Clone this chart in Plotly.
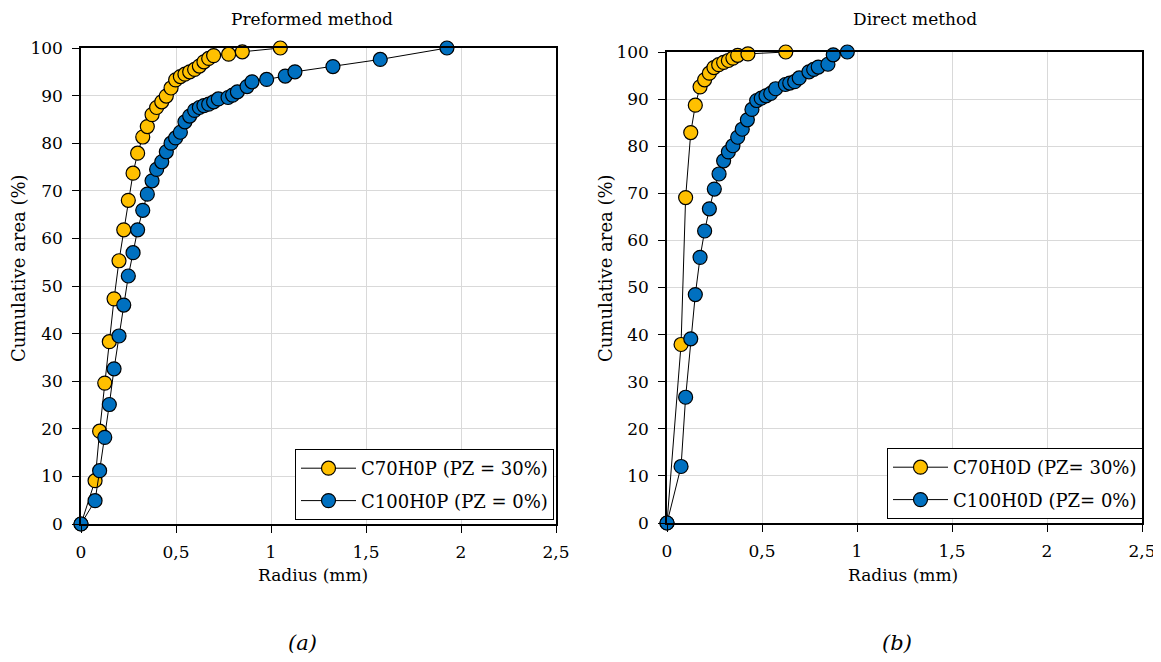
import plotly.graph_objects as go

# ---- data: (a) Preformed method ----
p70_r = [0, 0.074, 0.098, 0.125, 0.149, 0.174, 0.200, 0.225, 0.249, 0.274, 0.298, 0.325, 0.349,
         0.374, 0.398, 0.425, 0.449, 0.474, 0.498, 0.523, 0.547, 0.572, 0.598, 0.623, 0.647,
         0.672, 0.698, 0.777, 0.849, 1.049]
p70_a = [0, 9.1, 19.5, 29.6, 38.3, 47.3, 55.3, 61.8, 68.0, 73.7, 77.9, 81.3, 83.5,
         86.0, 87.5, 88.7, 89.9, 91.6, 93.3, 94.0, 94.5, 95.0, 95.5, 96.2, 97.1,
         97.8, 98.4, 98.7, 99.2, 100]
p100_r = [0, 0.074, 0.098, 0.125, 0.149, 0.174, 0.200, 0.225, 0.249, 0.274, 0.298, 0.325, 0.349,
          0.374, 0.398, 0.425, 0.449, 0.474, 0.498, 0.523, 0.547, 0.572, 0.598, 0.623, 0.647,
          0.672, 0.698, 0.723, 0.774, 0.798, 0.823, 0.874, 0.900, 0.977, 1.075, 1.126, 1.326,
          1.575, 1.926]
p100_a = [0, 4.9, 11.2, 18.2, 25.1, 32.6, 39.5, 46.0, 52.1, 57.0, 61.8, 65.9, 69.3,
          72.1, 74.5, 76.1, 78.2, 80.0, 81.1, 82.3, 84.5, 85.7, 86.9, 87.5, 87.9,
          88.2, 88.7, 89.3, 89.6, 90.1, 90.8, 91.9, 92.9, 93.4, 94.1, 95.0, 96.1,
          97.6, 100]

# ---- data: (b) Direct method ----
d70_r = [0, 0.074, 0.098, 0.125, 0.149, 0.174, 0.198, 0.223, 0.247, 0.272, 0.298, 0.323,
         0.347, 0.372, 0.426, 0.625]
d70_a = [0, 37.9, 69.1, 82.9, 88.7, 92.6, 94.1, 95.5, 96.7, 97.3, 97.8, 98.2,
         98.7, 99.3, 99.6, 100]
d100_r = [0, 0.074, 0.098, 0.125, 0.149, 0.174, 0.198, 0.223, 0.249, 0.274, 0.298, 0.323,
          0.347, 0.372, 0.396, 0.423, 0.447, 0.472, 0.496, 0.521, 0.546, 0.572, 0.623,
          0.646, 0.672, 0.696, 0.747, 0.772, 0.796, 0.847, 0.875, 0.949]
d100_a = [0, 12.0, 26.7, 39.1, 48.5, 56.4, 62.0, 66.7, 70.9, 74.1, 76.9, 78.8,
          80.1, 81.9, 83.6, 85.6, 87.8, 89.7, 90.2, 90.7, 91.2, 92.2, 93.1,
          93.4, 93.7, 94.5, 95.8, 96.3, 96.8, 97.4, 99.4, 100]

names_a = ["C70H0P (PZ = 30%)", "C100H0P (PZ = 0%)"]
names_b = ["C70H0D (PZ= 30%)", "C100H0D (PZ= 0%)"]
titles = ["Preformed method", "Direct method"]
panel_labels = ["(a)", "(b)"]
x_ticks = [0, 0.5, 1, 1.5, 2, 2.5]
x_ticktext = ["0", "0,5", "1", "1,5", "2", "2,5"]
y_ticks = list(range(0, 101, 10))

YELLOW = "#FFC000"
BLUE = "#0070C0"
FONT = "DejaVu Serif"

fig = go.Figure()

def add(x, y, name, color, xa, ya, legend, group):
    fig.add_trace(go.Scatter(
        x=x, y=y, name=name, mode="lines+markers", xaxis=xa, yaxis=ya, legend=legend,
        legendgroup=group,
        line=dict(color="black", width=1),
        marker=dict(size=14, color=color, line=dict(color="black", width=1.2)),
        cliponaxis=False))

add(p70_r, p70_a, names_a[0], YELLOW, "x", "y", "legend", "a1")
add(p100_r, p100_a, names_a[1], BLUE, "x", "y", "legend", "a2")
add(d70_r, d70_a, names_b[0], YELLOW, "x2", "y2", "legend2", "b1")
add(d100_r, d100_a, names_b[1], BLUE, "x2", "y2", "legend2", "b2")

# page has an 8px body margin: figure is drawn at (8, 8) in the window
OFF = 8
W, H = 1161 - OFF, 662 - OFF

def px(v):
    return (v - OFF) / W

def py(v):
    return 1 - (v - OFF) / H

axis_common = dict(showline=True, linecolor="black", linewidth=1.5, mirror=True,
                   gridcolor="#d9d9d9", gridwidth=1, ticks="outside", ticklen=7,
                   tickcolor="black", zeroline=False, automargin=False,
                   ticklabeloverflow="allow",
                   tickfont=dict(family=FONT, size=17, color="black"))

xaxis = dict(axis_common, range=[0, 2.5], tickvals=x_ticks, ticktext=x_ticktext,
             ticklabelstandoff=5)
yaxis = dict(axis_common, range=[0, 100], tickvals=y_ticks, ticklabelstandoff=6)

leg_common = dict(xanchor="right", yanchor="bottom", bordercolor="black", borderwidth=1,
                  bgcolor="white", font=dict(family=FONT, size=18, color="black"),
                  tracegroupgap=6, itemwidth=55)

fig.update_layout(
    width=W, height=H, margin=dict(l=0, r=0, t=0, b=0, autoexpand=False),
    paper_bgcolor="white", plot_bgcolor="white",
    font=dict(family=FONT, color="black"),
    xaxis=dict(xaxis, domain=[px(81), px(556)], anchor="y"),
    yaxis=dict(yaxis, domain=[py(524), py(48)], anchor="x"),
    xaxis2=dict(xaxis, domain=[px(667), px(1142)], anchor="y2"),
    yaxis2=dict(yaxis, domain=[py(523), py(52)], anchor="x2"),
    legend=dict(leg_common, x=px(554), y=py(520)),
    legend2=dict(leg_common, x=px(1143), y=py(519)),
    showlegend=True,
)

ann = []
for cx, t in zip((312, 915), titles):
    ann.append(dict(text=t, x=px(cx), y=py(19), font=dict(family=FONT, size=17)))
for cx in (313, 903):
    ann.append(dict(text="Radius (mm)", x=px(cx), y=py(575),
                    font=dict(family=FONT, size=17)))
for cx in (18, 605):
    ann.append(dict(text="Cumulative area (%)", x=px(cx), y=py(268), textangle=-90,
                    font=dict(family=FONT, size=18)))
for cx, lab in zip((302, 897), panel_labels):
    ann.append(dict(text="<i>" + lab + "</i>", x=px(cx), y=py(643),
                    font=dict(family=FONT, size=21)))
for a in ann:
    a.update(xref="paper", yref="paper", showarrow=False, xanchor="center", yanchor="middle")
    a["font"]["color"] = "black"
fig.update_layout(annotations=ann)

fig.write_html("out.html")
